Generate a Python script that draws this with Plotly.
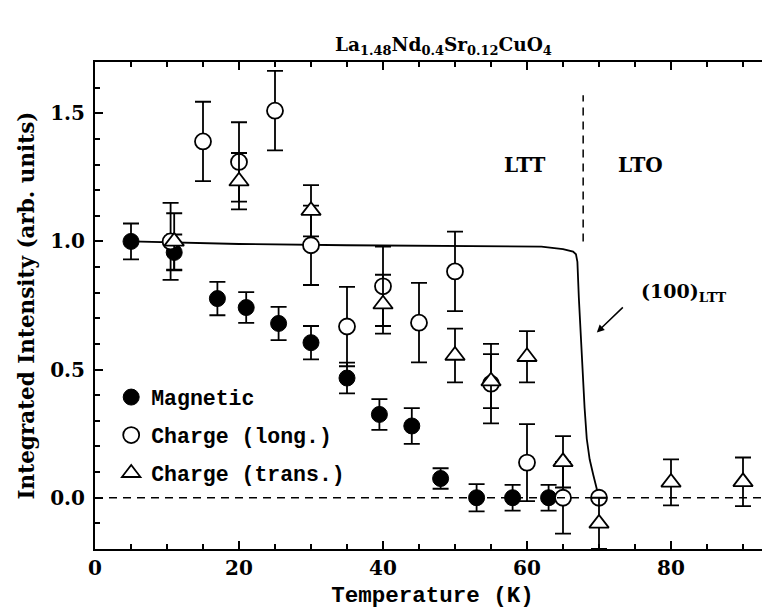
import plotly.graph_objects as go

# ---------------- data ----------------
mag_T = [5, 11, 17, 21, 25.5, 30, 35, 39.5, 44, 48, 53, 58, 63]
mag_I = [1.0, 0.957, 0.777, 0.742, 0.68, 0.605, 0.467, 0.325, 0.28, 0.075, 0.0, 0.0, 0.0]
mag_err = [0.07, 0.07, 0.065, 0.06, 0.065, 0.065, 0.06, 0.06, 0.07, 0.04, 0.053, 0.05, 0.05]

long_T = [10.5, 15, 20, 25, 30, 35, 40, 45, 50, 55, 60, 65, 70]
long_I = [1.0, 1.39, 1.31, 1.51, 0.985, 0.668, 0.825, 0.683, 0.883, 0.445, 0.137, 0.0, 0.0]
long_err = [0.15, 0.155, 0.155, 0.155, 0.155, 0.155, 0.155, 0.155, 0.155, 0.155, 0.15, 0.14, 0.0]

trans_T = [11, 20, 30, 40, 50, 55, 60, 65, 70, 80, 90]
trans_I = [1.0, 1.235, 1.12, 0.755, 0.555, 0.455, 0.55, 0.14, -0.1, 0.06, 0.062]
trans_err = [0.11, 0.11, 0.1, 0.115, 0.105, 0.105, 0.1, 0.1, 0.1, 0.09, 0.095]

# (100)_LTT structural peak intensity (solid curve)
curve_T = [5, 20, 35, 50, 62, 65, 66.4, 66.8, 67.0, 67.2, 67.6, 68.0, 68.3, 68.7, 69.2, 69.6, 70]
curve_I = [1.0, 0.99, 0.985, 0.983, 0.98, 0.97, 0.96, 0.95, 0.92, 0.78, 0.55, 0.35, 0.23, 0.15, 0.09, 0.04, 0.0]

T_transition = 67.8          # LTT / LTO boundary
boundary_span = [1.0, 1.57]  # vertical extent of dashed boundary line

x_range = [0, 93.75]
y_range = [-0.2, 1.7]

labels = ["Magnetic", "Charge (long.)", "Charge (trans.)"]

mono = "Liberation Mono"
serif = "DejaVu Serif"

fig = go.Figure()

fig.add_trace(go.Scatter(
    x=curve_T, y=curve_I, mode="lines",
    line=dict(color="black", width=1.8),
    showlegend=False, hoverinfo="skip"))

err_style = dict(type="data", thickness=1.8, width=8, color="black")

fig.add_trace(go.Scatter(
    x=mag_T, y=mag_I, mode="markers", name=labels[0], legendgroup="a",
    marker=dict(symbol="circle", size=16, color="black",
                line=dict(color="black", width=1)),
    error_y=dict(array=mag_err, **err_style)))

fig.add_trace(go.Scatter(
    x=long_T, y=long_I, mode="markers", name=labels[1], legendgroup="b",
    marker=dict(symbol="circle", size=16, color="white",
                line=dict(color="black", width=1.8)),
    error_y=dict(array=long_err, **err_style)))

fig.add_trace(go.Scatter(
    x=trans_T, y=trans_I, mode="markers", name=labels[2], legendgroup="c",
    marker=dict(symbol="triangle-up", size=17, color="white",
                line=dict(color="black", width=1.8)),
    error_y=dict(array=trans_err, **err_style)))

# reference lines
fig.add_shape(type="line", xref="paper", x0=0, x1=1, yref="y", y0=0, y1=0,
              line=dict(color="black", width=1.5, dash="8px,6px"))
fig.add_shape(type="line", xref="x", x0=T_transition, x1=T_transition, yref="y",
              y0=boundary_span[0], y1=boundary_span[1],
              line=dict(color="black", width=1.5, dash="8px,6px"))

bold_serif = dict(family=serif, size=20, color="black", weight="bold")

# annotations
fig.add_annotation(text="La<sub>1.48</sub>Nd<sub>0.4</sub>Sr<sub>0.12</sub>CuO<sub>4</sub>",
                   xref="paper", yref="paper", x=0.517, y=1.062, showarrow=False,
                   font=dict(family=serif, size=18.5, color="black", weight="bold"))
fig.add_annotation(text="LTT", x=59.7, y=1.30, showarrow=False, font=bold_serif)
fig.add_annotation(text="LTO", x=75.7, y=1.30, showarrow=False, font=bold_serif)
fig.add_annotation(text="(100)<sub>LTT</sub>", x=75.6, y=0.80, xanchor="left",
                   showarrow=False, font=dict(family=serif, size=19, color="black", weight="bold"))
fig.add_annotation(text=" ", x=69.7, y=0.645, ax=28, ay=-27, showarrow=True,
                   arrowhead=2, arrowsize=1, arrowwidth=1.5, arrowcolor="black",
                   font=dict(size=4))

axis_common = dict(showline=True, linecolor="black", linewidth=2, showgrid=False,
                   zeroline=False, ticks="inside", tickcolor="black", tickwidth=1.5,
                   ticklen=8, automargin=False,
                   tickfont=dict(family=serif, size=20, color="black", weight="bold"))

fig.update_xaxes(range=x_range, dtick=20, tick0=0, mirror="ticks",
                 minor=dict(dtick=5, ticks="inside", ticklen=5, tickcolor="black", tickwidth=1.5),
                 title=dict(text="Temperature (K)", standoff=7,
                            font=dict(family=mono, size=22.5, color="black", weight="bold")),
                 **axis_common)
fig.update_yaxes(range=y_range, dtick=0.5, tick0=0, tickformat=".1f", mirror=False,
                 ticklabelstandoff=4,
                 minor=dict(dtick=0.1, ticks="inside", ticklen=5, tickcolor="black", tickwidth=1.5),
                 title=dict(text="Integrated Intensity (arb. units)", standoff=10,
                            font=dict(family=serif, size=21.5, color="black", weight="bold")),
                 **axis_common)

# page body adds an 8px offset, so the figure is sized to fill the rest of the window
fig.update_layout(
    width=762, height=602,
    margin=dict(l=87, r=0, t=54, b=61),
    paper_bgcolor="white", plot_bgcolor="white",
    showlegend=True,
    legend=dict(x=0.024, y=0.354, xanchor="left", yanchor="top",
                bgcolor="rgba(0,0,0,0)", borderwidth=0, tracegroupgap=7,
                font=dict(family=mono, size=21.5, color="black", weight="bold")),
)

fig.write_html("out.html")
